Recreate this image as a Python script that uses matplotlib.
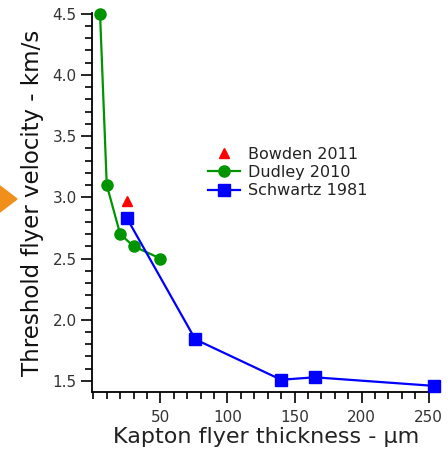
import matplotlib
matplotlib.use("Agg")
import matplotlib.pyplot as plt
from matplotlib.patches import Polygon
from matplotlib.ticker import MultipleLocator, FixedLocator

# Data
bowden_x = [25]
bowden_y = [2.97]

dudley_x = [5, 10, 20, 30, 50]
dudley_y = [4.5, 3.1, 2.7, 2.6, 2.5]

schwartz_x = [25, 76, 140, 165, 254]
schwartz_y = [2.83, 1.84, 1.51, 1.53, 1.46]

xtick_vals = [50, 100, 150, 200, 250]
ytick_vals = [1.5, 2.0, 2.5, 3.0, 3.5, 4.0, 4.5]

W, H = 448, 449
fig = plt.figure(figsize=(W / 100, H / 100), dpi=100)
ax = fig.add_axes([92 / W, 1 - 392 / H, (430 - 92) / W, (392 - 13) / H])

ax.plot(bowden_x, bowden_y, linestyle="none", marker="^", color="#ff0000",
        markersize=7, label="Bowden 2011", clip_on=False, zorder=3)
ax.plot(dudley_x, dudley_y, color="#009400", marker="o", markersize=8,
        linewidth=1.6, label="Dudley 2010", clip_on=False, zorder=3)
ax.plot(schwartz_x, schwartz_y, color="#0000ff", marker="s", markersize=8,
        linewidth=1.6, label="Schwartz 1981", clip_on=False, zorder=3)

ax.set_xlim(-1, 251)
ax.set_ylim(1.41, 4.505)

ax.spines["top"].set_visible(False)
ax.spines["right"].set_visible(False)
for s in ["left", "bottom"]:
    ax.spines[s].set_linewidth(1.3)

ax.xaxis.set_major_locator(FixedLocator(xtick_vals))
ax.xaxis.set_minor_locator(MultipleLocator(10))
ax.yaxis.set_major_locator(FixedLocator(ytick_vals))
ax.yaxis.set_minor_locator(MultipleLocator(0.1))
ax.set_xticklabels([str(v) for v in xtick_vals])
ax.set_yticklabels([f"{v:.1f}" for v in ytick_vals])

ax.tick_params(which="major", direction="out", length=8, width=1.2,
               labelsize=11, labelcolor="#333333")
ax.tick_params(which="minor", direction="out", length=5, width=1.2)
ax.tick_params(axis="y", which="major", pad=3)
ax.tick_params(axis="x", which="major", pad=5)

ax.set_xlabel("Kapton flyer thickness - \u03bcm", fontsize=16, color="#222222")
ax.xaxis.set_label_coords(0.515, -0.1346, transform=ax.transAxes)
ax.xaxis.label.set_va("baseline")
ax.set_ylabel("Threshold flyer velocity - km/s", fontsize=16.5, color="#111111",
              labelpad=6)

ax.legend(loc="upper left", bbox_to_anchor=(0.3, 0.685), frameon=False,
          fontsize=11.5, handlelength=2.0, handletextpad=0.5, labelspacing=0.2,
          labelcolor="#222222")

# orange arrow tip at left edge (slide decoration)
arrow = Polygon([(0, 1 - 186 / H), (17 / W, 1 - 199 / H), (0, 1 - 212 / H)],
                closed=True, transform=fig.transFigure, color="#f0901a",
                clip_on=False)
fig.patches.append(arrow)

fig.savefig("out.png", dpi=100)
